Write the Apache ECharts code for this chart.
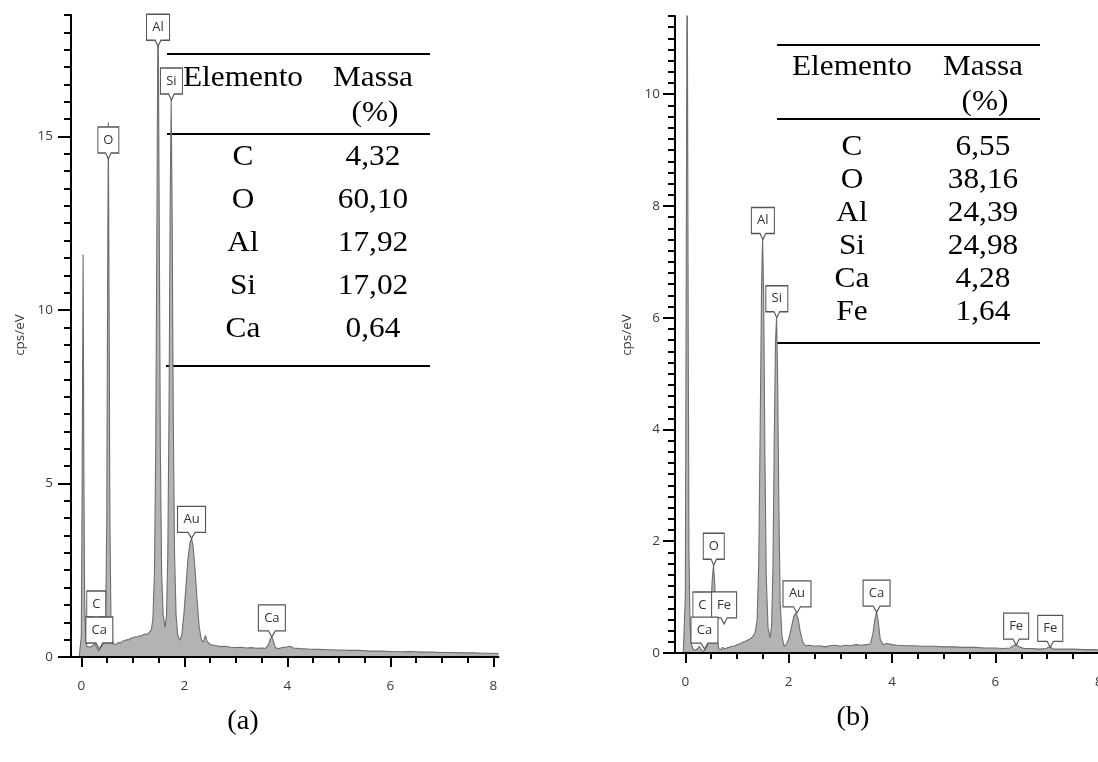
<!DOCTYPE html>
<html><head><meta charset="utf-8">
<script src="https://cdn.jsdelivr.net/npm/echarts@6/dist/echarts.min.js"></script>
<style>html,body{margin:0;padding:0;background:#fff}#c{width:1098px;height:762px}</style>
</head><body><div id="c"></div>
<script>
// ---------- DATA ----------
const spectrumA = [[-0.04,0],[0.0,0.6],[0.015,4.5],[0.035,11.6],[0.05,5.5],[0.065,1.6],[0.085,0.55],[0.11,0.3],[0.14,0.26],[0.18,0.29],[0.22,0.33],[0.26,0.38],[0.29,0.3],[0.33,0.17],[0.37,0.26],[0.41,0.34],[0.45,0.5],[0.475,1.2],[0.495,4.0],[0.51,10.5],[0.525,15.4],[0.54,10.0],[0.555,4.0],[0.575,1.2],[0.6,0.5],[0.63,0.36],[0.68,0.37],[0.72,0.42],[0.76,0.4],[0.8,0.46],[0.84,0.47],[0.88,0.5],[0.92,0.49],[0.96,0.54],[1.0,0.55],[1.04,0.58],[1.08,0.57],[1.12,0.61],[1.16,0.6],[1.2,0.64],[1.24,0.66],[1.28,0.65],[1.32,0.71],[1.36,0.78],[1.39,1.1],[1.42,2.4],[1.445,6.0],[1.47,13.0],[1.49,19.5],[1.51,13.5],[1.535,6.0],[1.56,2.4],[1.59,1.2],[1.625,0.86],[1.655,1.2],[1.68,3.0],[1.705,7.5],[1.725,13.0],[1.745,16.1],[1.765,12.5],[1.785,7.0],[1.81,3.0],[1.84,1.2],[1.87,0.65],[1.91,0.48],[1.95,0.62],[1.99,1.2],[2.03,2.0],[2.07,2.8],[2.11,3.3],[2.14,3.42],[2.17,3.2],[2.21,2.5],[2.25,1.6],[2.29,0.85],[2.33,0.5],[2.37,0.43],[2.41,0.62],[2.44,0.45],[2.5,0.36],[2.6,0.33],[2.7,0.3],[2.8,0.31],[2.9,0.28],[3.0,0.27],[3.1,0.28],[3.2,0.26],[3.3,0.27],[3.4,0.25],[3.5,0.26],[3.58,0.25],[3.63,0.35],[3.67,0.52],[3.7,0.58],[3.73,0.45],[3.77,0.27],[3.82,0.24],[3.9,0.27],[3.98,0.29],[4.05,0.31],[4.12,0.26],[4.25,0.24],[4.4,0.23],[4.6,0.22],[4.8,0.21],[5.0,0.2],[5.2,0.19],[5.4,0.19],[5.6,0.17],[5.8,0.17],[6.0,0.16],[6.2,0.15],[6.4,0.16],[6.6,0.14],[6.8,0.14],[7.0,0.13],[7.2,0.13],[7.4,0.12],[7.6,0.12],[7.8,0.11],[8.0,0.11],[8.1,0.1]];

const spectrumB = [[-0.04,0],[0.0,1.0],[0.015,6],[0.035,13],[0.055,6],[0.07,1.8],[0.09,0.5],[0.12,0.14],[0.16,0.06],[0.2,0.05],[0.24,0.08],[0.27,0.12],[0.3,0.07],[0.34,0.03],[0.38,0.05],[0.42,0.12],[0.46,0.3],[0.49,0.75],[0.52,1.3],[0.545,1.58],[0.57,1.2],[0.595,0.6],[0.62,0.22],[0.65,0.07],[0.69,0.06],[0.72,0.1],[0.76,0.07],[0.8,0.09],[0.85,0.1],[0.9,0.12],[0.95,0.12],[1.0,0.15],[1.05,0.16],[1.1,0.19],[1.15,0.2],[1.2,0.23],[1.25,0.25],[1.3,0.29],[1.35,0.36],[1.39,0.6],[1.42,1.6],[1.45,4.2],[1.475,6.6],[1.495,7.45],[1.515,6.4],[1.54,3.5],[1.565,1.4],[1.6,0.45],[1.64,0.27],[1.67,0.5],[1.695,1.5],[1.72,3.8],[1.745,5.6],[1.765,6.0],[1.785,5.0],[1.81,2.6],[1.835,0.9],[1.87,0.3],[1.91,0.12],[1.95,0.15],[2.0,0.25],[2.05,0.45],[2.1,0.66],[2.14,0.72],[2.18,0.62],[2.22,0.4],[2.27,0.2],[2.32,0.13],[2.4,0.14],[2.5,0.12],[2.6,0.13],[2.7,0.11],[2.8,0.13],[2.9,0.14],[3.0,0.12],[3.1,0.14],[3.2,0.13],[3.3,0.15],[3.4,0.14],[3.5,0.15],[3.58,0.16],[3.63,0.35],[3.67,0.62],[3.7,0.73],[3.73,0.58],[3.77,0.25],[3.82,0.15],[3.9,0.17],[4.0,0.15],[4.1,0.14],[4.25,0.13],[4.4,0.13],[4.6,0.12],[4.8,0.12],[5.0,0.11],[5.2,0.11],[5.4,0.1],[5.6,0.1],[5.8,0.09],[6.0,0.09],[6.15,0.08],[6.28,0.09],[6.35,0.13],[6.4,0.15],[6.46,0.11],[6.55,0.08],[6.7,0.08],[6.85,0.07],[6.98,0.08],[7.05,0.11],[7.12,0.07],[7.3,0.07],[7.5,0.07],[7.7,0.06],[7.9,0.06],[8.1,0.05],[8.3,0.05]];

const peakNamesA   = ['Al','Si','O','Au','C','Ca','Ca'];
const peakEnergyA  = [1.49, 1.75, 0.525, 2.14, 0.29, 0.35, 3.70];
const peakHeightA  = [17.6, 16.05, 14.35, 3.42, 0.98, 0.23, 0.58];

const peakNamesB   = ['Al','Si','O','C','Fe','Ca','Au','Ca','Fe','Fe'];
const peakEnergyB  = [1.50, 1.77, 0.55, 0.33, 0.75, 0.37, 2.16, 3.70, 6.40, 7.06];
const peakHeightB  = [7.4, 6.0, 1.57, 0.52, 0.52, 0.07, 0.72, 0.73, 0.14, 0.10];

const xTickLabels  = [0, 2, 4, 6, 8];
const yTickLabelsA = [0, 5, 10, 15];
const yTickLabelsB = [0, 2, 4, 6, 8, 10];

const tableHeader  = ['Elemento', 'Massa', '(%)'];
const tableElemA   = ['C','O','Al','Si','Ca'];
const tableMassA   = ['4,32','60,10','17,92','17,02','0,64'];
const tableElemB   = ['C','O','Al','Si','Ca','Fe'];
const tableMassB   = ['6,55','38,16','24,39','24,98','4,28','1,64'];
const captions     = ['(a)', '(b)'];
const yAxisTitle   = 'cps/eV';

// ---------- STYLE / LAYOUT ----------
const axisFont = 'Open Sans';
const serif = 'Liberation Serif';
const boxW = {C:19, O:21, Al:23, Si:22, Au:28, Ca:27, Fe:25};

function steps(min, max, step) {
  const out = []; const n = Math.round((max - min) / step);
  for (let i = 0; i <= n; i++) out.push(+(min + i * step).toFixed(3));
  return out;
}

function xAxes(g) {
  const base = {type:'value', gridIndex:g, min:-0.2, max:8.1, position:'bottom', splitLine:{show:false}, z:5};
  return [
    Object.assign({}, base, {
      axisLine:{show:true, onZero:false, lineStyle:{color:'#000', width:2}},
      axisTick:{show:true, length:10, lineStyle:{color:'#000', width:2}, customValues:xTickLabels},
      axisLabel:{show:true, customValues:xTickLabels, margin:22, fontSize:13.5, color:'#3a3a3a', fontFamily:axisFont}
    }),
    Object.assign({}, base, {
      axisLine:{show:false, onZero:false},
      axisTick:{show:true, length:6, lineStyle:{color:'#000', width:2}, customValues:steps(0, 8, 0.5)},
      axisLabel:{show:false}
    })
  ];
}
function yAxes(g, max, labels, minorStep, margin, majorLen) {
  const base = {type:'value', gridIndex:g, min:0, max:max, position:'left', splitLine:{show:false}, z:5};
  return [
    Object.assign({}, base, {
      axisLine:{show:true, onZero:false, lineStyle:{color:'#000', width:2}},
      axisTick:{show:true, length:majorLen, lineStyle:{color:'#000', width:2}, customValues:labels},
      axisLabel:{show:true, customValues:labels, margin:margin, fontSize:13.5, color:'#3a3a3a', fontFamily:axisFont}
    }),
    Object.assign({}, base, {
      axisLine:{show:false, onZero:false},
      axisTick:{show:true, length:7, lineStyle:{color:'#000', width:2}, customValues:steps(0, max, minorStep)},
      axisLabel:{show:false}
    })
  ];
}

function spectrumSeries(data, xi, yi) {
  return {type:'line', xAxisIndex:xi, yAxisIndex:yi, data:data, showSymbol:false, symbol:'none',
    lineStyle:{color:'#6e6e6e', width:1.1}, areaStyle:{color:'#b3b3b3', opacity:1}, z:2, animation:false};
}
const pennant = 'path://M0,0H24V26H15L12,32L9,26H0Z';
function labelSeries(names, xs, ys, xi, yi) {
  return {type:'scatter', xAxisIndex:xi, yAxisIndex:yi, clip:false, animation:false, z:3,
    data: names.map((n, i) => [xs[i], ys[i], n]),
    symbol: pennant, symbolKeepAspect:false,
    symbolSize: v => [boxW[v[2]] || 22, 32],
    symbolOffset: [0, -16],
    itemStyle:{color:'#fff', borderColor:'#555', borderWidth:1.2, opacity:1},
    label:{show:true, position:'inside', formatter: p => p.value[2], offset:[0,-3],
      fontSize:13, color:'#333', fontFamily:axisFont},
    emphasis:{disabled:true}, silent:true};
}

// ---------- GRAPHIC (tables, captions, axis names) ----------
const graphics = [];
function txt(x, y, s, size, font, sx) {
  graphics.push({type:'text', x:x, y:y, scaleX:sx || 1, silent:true,
    style:{text:s, x:0, y:0, align:'center', verticalAlign:'middle', font: size + 'px "' + font + '"', fill:'#000'}});
}
function hline(x1, x2, y) {
  graphics.push({type:'line', silent:true, shape:{x1:x1, y1:y, x2:x2, y2:y}, style:{stroke:'#000', lineWidth:2}});
}
function table(cfg, elems, masses) {
  hline(cfg.l, cfg.r, cfg.top);
  hline(cfg.l, cfg.r, cfg.mid);
  hline(cfg.lb, cfg.r, cfg.bottom);
  txt(cfg.c1, cfg.h1, tableHeader[0], 29, serif, 1.08);
  txt(cfg.c2, cfg.h1, tableHeader[1], 29, serif, 1.08);
  txt(cfg.c2 + 2, cfg.h2, tableHeader[2], 29, serif, 1.08);
  elems.forEach((e, i) => {
    txt(cfg.c1, cfg.r0 + i * cfg.dr, e, 29, serif, 1.08);
    txt(cfg.c2, cfg.r0 + i * cfg.dr, masses[i], 29, serif, 1.08);
  });
}
table({l:167, lb:166, r:430, top:54, mid:134, bottom:366, c1:243, c2:373, h1:78, h2:113, r0:157, dr:43}, tableElemA, tableMassA);
table({l:777, lb:775, r:1040, top:45, mid:119, bottom:343, c1:852, c2:983, h1:67, h2:102, r0:147, dr:33}, tableElemB, tableMassB);
txt(243, 722, captions[0], 27, serif, 1.05);
txt(853, 718, captions[1], 27, serif, 1.05);
[[20, 335], [627, 335]].forEach(p => graphics.push({type:'text', x:p[0], y:p[1], rotation:Math.PI/2, silent:true,
  style:{text:yAxisTitle, x:0, y:0, align:'center', verticalAlign:'middle', font:'13.5px "' + axisFont + '"', fill:'#3a3a3a'}}));

// ---------- CHART ----------
const chart = echarts.init(document.getElementById('c'), null, {renderer:'canvas'});
chart.setOption({
  backgroundColor:'#fff',
  animation:false,
  grid:[
    {left:71, top:15, width:427.5, height:642, outerBoundsMode:'none', containLabel:false},
    {left:675, top:16, width:429, height:637, outerBoundsMode:'none', containLabel:false}
  ],
  xAxis: xAxes(0).concat(xAxes(1)),
  yAxis: yAxes(0, 18.5, yTickLabelsA, 0.5, 18, 13).concat(yAxes(1, 11.4, yTickLabelsB, 0.2, 15, 12)),
  series:[
    spectrumSeries(spectrumA, 0, 0),
    labelSeries(peakNamesA, peakEnergyA, peakHeightA, 0, 0),
    spectrumSeries(spectrumB, 2, 2),
    labelSeries(peakNamesB, peakEnergyB, peakHeightB, 2, 2)
  ],
  graphic: graphics
});
</script></body></html>
